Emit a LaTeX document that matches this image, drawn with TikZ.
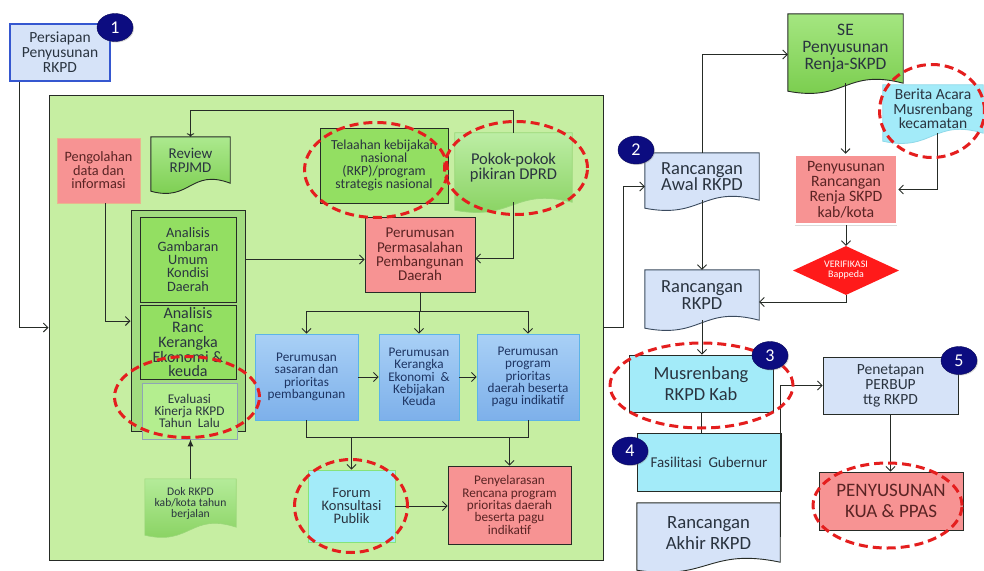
\documentclass[tikz,border=0pt]{standalone}
\usepackage{fontspec}
\setmainfont{Carlito}
\usepackage{xcolor}
\usetikzlibrary{arrows.meta,shapes,calc,positioning,shadows}

\definecolor{ink}{HTML}{2A3440}
\definecolor{redink}{HTML}{5A2424}
\definecolor{blueink}{HTML}{1E3563}
\definecolor{darkline}{HTML}{262B26}
\definecolor{slateline}{HTML}{3A4A5E}
\definecolor{panelgreen}{HTML}{C6EEA2}
\definecolor{groupgreen}{HTML}{A2DB80}
\definecolor{boxgreen}{HTML}{93DF62}
\definecolor{evalgreen}{HTML}{B4EE8F}
\definecolor{evalline}{HTML}{8EA5B5}
\definecolor{softgreen}{HTML}{9AD77A}
\definecolor{docgreentop}{HTML}{ACE98E}
\definecolor{docgreenbot}{HTML}{77CB4A}
\definecolor{pinkbox}{HTML}{F79393}
\definecolor{peachline}{HTML}{E9B58E}
\definecolor{paleblue}{HTML}{D6E3F8}
\definecolor{bluetop}{HTML}{A9D0F6}
\definecolor{bluebot}{HTML}{7DB0EA}
\definecolor{blueline}{HTML}{5CB4E8}
\definecolor{cyanbox}{HTML}{A3EBF9}
\definecolor{cyanline}{HTML}{8FD8E8}
\definecolor{forumline}{HTML}{86E37A}
\definecolor{navy}{HTML}{0C0C80}
\definecolor{hired}{HTML}{E41E1E}
\definecolor{royal}{HTML}{3557D0}
\definecolor{verifred}{HTML}{FF1A1A}

\pgfdeclarelayer{back}
\pgfdeclarelayer{docs}
\pgfsetlayers{back,docs,main}

\newcommand\docshape[2]{%
  \begin{pgfonlayer}{docs}
    \path[#2] (#1.north west) -- (#1.north east) -- (#1.south east)
      .. controls ($(#1.south)+(0,-15)$) and ($(#1.south)+(0,19)$)
      .. ($(#1.south west)+(0,8)$) -- cycle;
  \end{pgfonlayer}}

\begin{document}
\begin{tikzpicture}[x=1pt,y=-1pt,
  box/.style={rectangle,align=center,text=ink,inner sep=1pt},
  sz/.style 2 args={minimum width=#1,minimum height=#2},
  fs/.style 2 args={font=\fontsize{#1}{#2}\selectfont},
  arr/.style={-{Straight Barb[length=4.5pt,width=9pt]},draw=darkline,line width=0.9pt},
  link/.style={draw=darkline,line width=0.9pt},
  redbox/.style={box,fill=pinkbox,draw=darkline,line width=0.9pt,text=redink},
  bluebox/.style={box,text=blueink,top color=bluetop,bottom color=bluebot,draw=blueline,line width=0.8pt,fs={13.2}{12.3}},
  hilite/.style={ellipse,draw=hired,line width=3pt,dash pattern=on 9pt off 5pt,inner sep=0pt},
  badge/.style={ellipse,fill=navy,draw=navy!70!black,text=white,inner sep=0pt,minimum width=36,minimum height=28,fs={18}{18},drop shadow={opacity=.35,shadow xshift=1pt,shadow yshift=-1pt}}]
\useasboundingbox (0,0) rectangle (984,570);

\begin{pgfonlayer}{back}
\node[box,sz={554}{465},fill=panelgreen,draw=darkline,line width=1pt] (panel) at (326,327.5) {};
\end{pgfonlayer}

\node[box,sz={100}{57},fill=paleblue,draw=royal,line width=1.2pt,fs={15.5}{15}] (persiapan) at (60,52.5) {Persiapan\\Penyusunan\\RKPD};
\node[redbox,sz={83}{65},draw=peachline,fs={14.3}{13.5}] (pengolahan) at (98.5,170.5) {Pengolahan\\data dan\\informasi};
\node[box,sz={79}{46},fs={15}{14}] (review) at (190.5,160) {Review\\RPJMD};
\docshape{review}{draw=darkline,line width=0.9pt,top color=docgreentop,bottom color=docgreenbot}
\node[box,sz={128}{75},fill=boxgreen,draw=darkline,line width=1pt,fs={13.8}{13}] (telaahan) at (384,165.5) {Telaahan kebijakan\\nasional\\(RKP)/program\\strategis nasional};
\node[box,sz={117}{69},fs={16.5}{15.7}] (pokok) at (513.5,167.5) {Pokok-pokok\\pikiran DPRD};
\docshape{pokok}{draw=softgreen,line width=0.8pt,top color=docgreentop!80!white,bottom color=docgreenbot!90!white}
\node[redbox,sz={110}{75},fs={15}{14.2}] (permasalahan) at (420,254.5) {Perumusan\\Permasalahan\\Pembangunan\\Daerah};

\node[box,sz={114}{221},fill=groupgreen,draw=darkline,line width=1pt] (group) at (188,321) {};
\node[box,sz={96}{85},fill=boxgreen,draw=darkline,line width=1pt,fs={14.3}{13.4}] (gambaran) at (188,259.5) {Analisis\\Gambaran\\Umum\\Kondisi\\Daerah};
\node[box,sz={96}{74},fill=boxgreen,draw=darkline,line width=1pt,fs={16}{14.6}] (ranc) at (188,342) {Analisis\\Ranc\\Kerangka\\Ekonomi \&\\keuda};
\node[box,sz={95}{56},fill=evalgreen,draw=evalline,line width=0.8pt,fs={13.3}{11.8}] (evaluasi) at (189.5,411) {Evaluasi\\Kinerja RKPD\\Tahun~ Lalu};
\node[box,sz={91}{48},fs={11.6}{11}] (dok) at (190.5,503) {Dok RKPD\\kab/kota tahun\\berjalan};
\docshape{dok}{draw=softgreen,line width=0.6pt,top color=docgreentop!90!white,bottom color=docgreenbot!90!white}

\node[bluebox,sz={103}{86}] (sasaran) at (306.5,377) {Perumusan\\sasaran dan\\prioritas\\pembangunan};
\node[bluebox,sz={80}{86}] (kerangka) at (419,377) {Perumusan\\Kerangka\\Ekonomi~ \&\\Kebijakan\\Keuda};
\node[bluebox,sz={102}{86}] (program) at (528,377) {Perumusan\\program\\prioritas\\daerah beserta\\pagu indikatif};
\node[box,sz={87}{72},fill=cyanbox,draw=forumline,line width=0.8pt,fs={14.5}{13.3}] (forum) at (351.5,506) {Forum\\Konsultasi\\Publik};
\node[redbox,sz={123}{78},fs={13.2}{12.3}] (penyelarasan) at (509.5,505) {Penyelarasan\\Rencana program\\prioritas daerah\\beserta pagu\\indikatif};

\node[box,sz={114}{47},fs={18.5}{16.7}] (rancawal) at (702,176.5) {Rancangan\\Awal RKPD};
\docshape{rancawal}{draw=slateline,line width=0.9pt,fill=paleblue}
\node[box,sz={115}{69},fs={17.5}{17}] (se) at (845.5,48.5) {SE\\Penyusunan\\Renja-SKPD};
\docshape{se}{draw=darkline,line width=0.9pt,top color=docgreentop!70!boxgreen,bottom color=docgreenbot}
\node[box,sz={100}{48},fs={15.5}{14.5}] (berita) at (933,109) {Berita Acara\\Musrenbang\\kecamatan};
\docshape{berita}{draw=cyanline,line width=0.8pt,fill=cyanbox}
\node[box,sz={102}{69},fill=pinkbox,draw=white,line width=2.5pt,text=redink,fs={15.8}{15.3},drop shadow={opacity=.3,shadow xshift=0pt,shadow yshift=-1.5pt}] (penyusunan) at (846,189.5) {Penyusunan\\Rancangan\\Renja SKPD\\kab/kota};
\node[diamond,aspect=2.16,minimum width=106,minimum height=49,inner sep=0pt,fill=verifred,text=white,align=center,fs={10}{10}] (verif) at (846,270.5) {VERIFIKASI\\Bappeda};
\node[box,sz={114}{50},fs={18.5}{16.7}] (rancrkpd) at (702,295) {Rancangan\\RKPD};
\docshape{rancrkpd}{draw=slateline,line width=0.9pt,fill=paleblue}
\node[box,sz={144}{57},fill=cyanbox,draw=darkline,line width=0.9pt,fs={18.5}{21}] (musrenbang) at (701,383.5) {Musrenbang\\RKPD Kab};
\node[box,sz={144}{58},fill=cyanbox,draw=darkline,line width=0.9pt,fs={15}{15}] (fasilitasi) at (709,462) {Fasilitasi~ Gubernur};
\node[box,sz={143}{59},fs={18.7}{21}] (akhir) at (708.5,532.5) {Rancangan\\Akhir RKPD};
\docshape{akhir}{draw=darkline,line width=0.9pt,fill=paleblue}
\node[box,sz={135}{57},fill=paleblue,draw=darkline,line width=0.9pt,fs={15.5}{15}] (penetapan) at (890.5,385.5) {Penetapan\\PERBUP\\ttg RKPD};
\node[redbox,sz={144}{58},fs={19}{21}] (kua) at (891,501) {PENYUSUNAN\\KUA \& PPAS};

\draw[arr] ([xshift=10pt]persiapan.south west) |- (panel.west);
\draw[arr] ([xshift=6.5pt]pengolahan.south) |- (group.west);
\draw[arr,<-] (review.north) -- ++(0,-26) -| (pokok.north);
\draw[arr] (pokok.south) |- ([yshift=-4pt]permasalahan.east);
\draw[arr] (group.east |- gambaran.east) -- (permasalahan.west |- gambaran.east);
\draw[link] (permasalahan.south) -- ++(0,19) coordinate (fork);
\draw[link] (fork -| sasaran.north) -- (fork -| program.north);
\foreach \n in {sasaran,kerangka,program}
  \draw[arr] (fork -| \n.north) -- (\n.north);
\draw[arr] (sasaran.east) -- (kerangka.west);
\draw[arr] (kerangka.east) -- (program.west);
\draw[link] (sasaran.south) -- ++(0,17) coordinate (merge) -| (program.south);
\draw[arr] (merge -| forum.north) -- (forum.north);
\draw[arr] (merge -| penyelarasan.north) -- (penyelarasan.north);
\draw[arr] (forum.east) -- (forum.east -| penyelarasan.west);
\draw[-{Latex[length=7pt,width=6pt]},link] (dok.north) -- (dok.north |- evaluasi.south);

\draw[arr] (panel.east) -- ++(20,0) |- ([yshift=-10pt]rancawal.west);
\draw[arr] (rancawal.north) |- ([yshift=-6pt]se.west);
\draw[arr] (se.south) -- (se.south |- penyusunan.north);
\draw[arr] ([xshift=4pt]berita.south) |- (penyusunan.east);
\draw[arr] (penyusunan.south) -- (verif.north);
\draw[arr] (verif.south) |- ([yshift=-7pt]rancrkpd.east);
\draw[arr] (rancawal.south) -- (rancrkpd.north);
\draw[arr] (rancrkpd.south) -- (rancrkpd.south |- musrenbang.north);
\draw[link] (musrenbang.south) -- (musrenbang.south |- fasilitasi.north);
\draw[arr] ([yshift=-34pt]akhir.north east) |- (penetapan.west);
\draw[arr] (penetapan.south) -- (penetapan.south |- kua.north);

\node[hilite,minimum width=143,minimum height=95] (hltelaahan) at (376,170) {};
\node[hilite,minimum width=143,minimum height=93] (hlpokok) at (516,168) {};
\node[hilite,minimum width=145,minimum height=81] (hlevaluasi) at (187,397) {};
\node[hilite,minimum width=113,minimum height=93] (hlforum) at (351,506) {};
\node[hilite,minimum width=105,minimum height=93] (hlberita) at (932,111) {};
\node[hilite,minimum width=183,minimum height=85] (hlmusren) at (701.5,385.5) {};
\node[hilite,minimum width=149,minimum height=85] (hlkua) at (887.5,505.5) {};

\node[badge] (b1) at (115,27.5) {1};
\node[badge] (b2) at (636,150) {2};
\node[badge] (b3) at (770,355.5) {3};
\node[badge] (b4) at (630,451) {4};
\node[badge] (b5) at (959,360.5) {5};
\end{tikzpicture}
\end{document}
